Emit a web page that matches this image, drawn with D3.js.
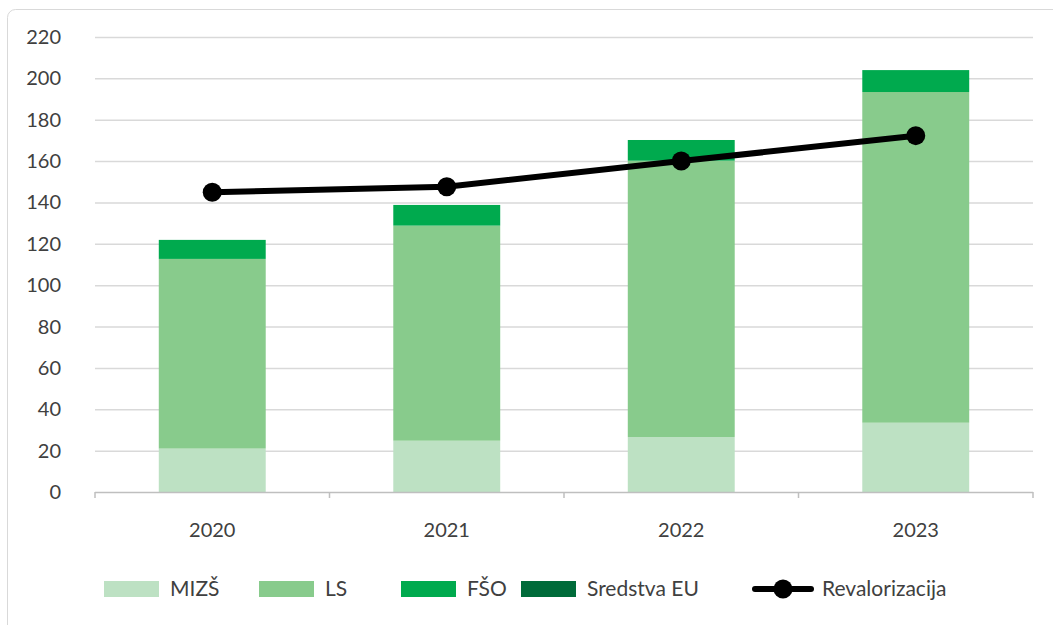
<html>
<head>
<meta charset="utf-8">
<title>Revalorizacija</title>
<script src="https://d3js.org/d3.v7.min.js"></script>
<style type="text/css">
body{ margin:0; background:#fff; }
text{ font-family:Lato, "Open Sans", sans-serif; fill:#404040; }
.grid line{ stroke:#d9d9d9; stroke-width:1.5; }
.grid .domain{ display:none; }
</style>
</head>
<body>
<script>
var years = ['2020', '2021', '2022', '2023'];
var mizs = [21, 24.8, 26.6, 33.5];
var ls = [91.7, 104, 133.6, 159.9];
var fso = [9.2, 10, 10, 10.6];
var eu = [0, 0, 0, 0];
var revalorizacija = [144.9, 147.6, 160, 172.3];
var yTicks = d3.range(0, 221, 20);

var seriesNames = ['MIZŠ', 'LS', 'FŠO', 'Sredstva EU'];
var seriesColors = ['#bde1c3', '#88cb8c', '#00aa4e', '#006b3a'];
var seriesValues = [mizs, ls, fso, eu];

var W = 1053, H = 625,
	mLeft = 95, mRight = 1033, mTop = 37, mBottom = 492;

var svg = d3.select('body').append('svg').attr('width', W).attr('height', H);

svg.append('rect')
	.attr('x', 7.5).attr('y', 9.5).attr('width', 1060).attr('height', 640)
	.attr('rx', 8).attr('fill', '#fff').attr('stroke', '#d9d9d9');

var x = d3.scaleBand().domain(years).range([mLeft, mRight])
	.paddingInner(0.544).paddingOuter(0.272);
var y = d3.scaleLinear().domain([0, 220]).range([mBottom, mTop]);

// grid
svg.append('g').attr('class', 'grid')
	.attr('transform', 'translate(' + mLeft + ',0)')
	.call(d3.axisLeft(y).tickValues(yTicks.slice(1)).tickSize(-(mRight - mLeft)).tickFormat(''));

// y labels
svg.append('g').selectAll('text')
	.data(yTicks).enter().append('text')
	.attr('x', 61).attr('y', function(d){ return y(d); })
	.attr('dy', '0.35em').attr('text-anchor', 'end')
	.style('font-size', '20px')
	.text(function(d){ return d; });

// stacked bars
var rows = years.map(function(yr, i){
	var r = { year: yr };
	seriesNames.forEach(function(n, k){ r[n] = seriesValues[k][i]; });
	return r;
});
var stacked = d3.stack().keys(seriesNames)(rows);

svg.append('g').selectAll('g')
	.data(stacked).enter().append('g')
	.attr('fill', function(d, i){ return seriesColors[i]; })
	.selectAll('rect')
	.data(function(d){ return d; }).enter().append('rect')
	.attr('x', function(d){ return x(d.data.year); })
	.attr('width', x.bandwidth())
	.attr('y', function(d){ return y(d[1]); })
	.attr('height', function(d){ return y(d[0]) - y(d[1]); });

// x axis
var xa = svg.append('g');
xa.append('line').attr('x1', mLeft).attr('x2', mRight).attr('y1', mBottom + 0.5).attr('y2', mBottom + 0.5)
	.attr('stroke', '#bfbfbf').attr('stroke-width', 1.5);
var bounds = years.map(function(d){ return x(d) - x.step() * x.paddingInner() / 2; });
bounds.push(mRight);
xa.selectAll('line.tk').data(bounds).enter().append('line')
	.attr('class', 'tk')
	.attr('x1', function(d){ return d; }).attr('x2', function(d){ return d; })
	.attr('y1', mBottom).attr('y2', mBottom + 6)
	.attr('stroke', '#bfbfbf').attr('stroke-width', 1.5);
xa.selectAll('text').data(years).enter().append('text')
	.attr('x', function(d){ return x(d) + x.bandwidth() / 2; })
	.attr('y', 530).attr('dy', '0.35em').attr('text-anchor', 'middle')
	.style('font-size', '20px')
	.text(function(d){ return d; });

// line
var line = d3.line()
	.x(function(d, i){ return x(years[i]) + x.bandwidth() / 2; })
	.y(function(d){ return y(d); });
svg.append('path').datum(revalorizacija)
	.attr('d', line).attr('fill', 'none')
	.attr('stroke', '#000').attr('stroke-width', 6).attr('stroke-linecap', 'round');
svg.append('g').selectAll('circle')
	.data(revalorizacija).enter().append('circle')
	.attr('cx', function(d, i){ return x(years[i]) + x.bandwidth() / 2; })
	.attr('cy', function(d){ return y(d); })
	.attr('r', 9.5).attr('fill', '#000');

// legend
var legY = 589;
var legX = [104, 259, 401, 521];
var lg = svg.append('g');
seriesNames.forEach(function(n, k){
	lg.append('rect').attr('x', legX[k]).attr('y', legY - 8).attr('width', 55).attr('height', 16)
		.attr('fill', seriesColors[k]);
	lg.append('text').attr('x', legX[k] + 66).attr('y', legY).attr('dy', '0.35em')
		.style('font-size', '21px').text(n);
});
lg.append('line').attr('x1', 755).attr('x2', 811).attr('y1', legY).attr('y2', legY)
	.attr('stroke', '#000').attr('stroke-width', 6).attr('stroke-linecap', 'round');
lg.append('circle').attr('cx', 783).attr('cy', legY).attr('r', 9.5).attr('fill', '#000');
lg.append('text').attr('x', 822).attr('y', legY).attr('dy', '0.35em')
	.style('font-size', '21px').text('Revalorizacija');
</script>
</body>
</html>
